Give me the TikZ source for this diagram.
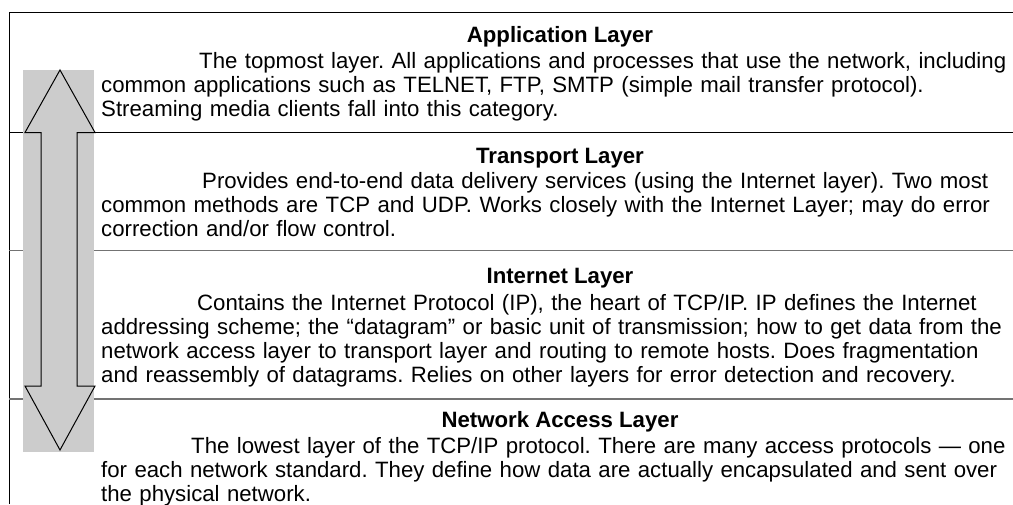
\documentclass[tikz,border=0pt]{standalone}
\usepackage{fontspec}
\setmainfont{Liberation Sans}
\frenchspacing
\begin{document}
\begin{tikzpicture}[x=1pt,y=-1pt,
  frame/.style={black, line width=1pt},
  divblack/.style={black, line width=1pt},
  divgray/.style={black!55, line width=1.5pt},
  arrowbg/.style={fill=black!20},
  arrowline/.style={draw=black, line width=1pt, line join=miter},
  ttl/.style={font=\fontsize{22.2}{24}\selectfont\bfseries, anchor=base, inner sep=0},
  body/.style={font=\fontsize{22.2}{24}\selectfont\frenchspacing, anchor=base west, inner sep=0, text width=1000pt, align=left},
]
\useasboundingbox (0,0) rectangle (1013,504);
% frame
\coordinate (tl) at (9,12);
\coordinate (tr) at (1013,12);
\coordinate (bl) at (9,504);
\draw[frame] (tr) -- (tl) -- (bl);
% dividers
\coordinate (d1l) at (9,132.5);  \coordinate (d1r) at (1013,132.5);
\coordinate (d2l) at (9,250.5);  \coordinate (d2r) at (1013,250.5);
\coordinate (d3l) at (9,399);    \coordinate (d3r) at (1013,399);
\draw[divblack] (d1l) -- (d1r);
\draw[divgray] (d2l) -- (d2r);
\draw[divgray] (d3l) -- (d3r);
% double arrow
\fill[arrowbg] (23,70) rectangle (94,452);
\draw[arrowline] (60,70) -- (95,132.5) -- (77,132.5) -- (77,386) -- (95,386)
  -- (60,450) -- (25,386) -- (41,386) -- (41,132.5) -- (25,132.5) -- cycle;
% Application
\node[ttl] (t1) at (560,42) {Application Layer};
\node[body] (b1) at (101,68) {\hspace*{98pt}The topmost layer. All applications and processes that use the network, including\\
common applications such as TELNET, FTP, SMTP (simple mail transfer protocol).\\
Streaming media clients fall into this category.};
% Transport
\node[ttl] (t2) at (560,163) {Transport Layer};
\node[body] (b2) at (101,188) {\hspace*{101pt}Provides end-to-end data delivery services (using the Internet layer). Two most\\
common methods are TCP and UDP. Works closely with the Internet Layer; may do error\\
correction and/or flow control.};
% Internet
\node[ttl] (t3) at (560,283) {Internet Layer};
\node[body] (b3) at (101,310) {\hspace*{96pt}Contains the Internet Protocol (IP), the heart of TCP/IP. IP defines the Internet\\
addressing scheme; the “datagram” or basic unit of transmission; how to get data from the\\
network access layer to transport layer and routing to remote hosts. Does fragmentation\\
and reassembly of datagrams. Relies on other layers for error detection and recovery.};
% Network Access
\node[ttl] (t4) at (560,427) {Network Access Layer};
\node[body] (b4) at (101,453) {\hspace*{90pt}The lowest layer of the TCP/IP protocol. There are many access protocols — one\\
for each network standard. They define how data are actually encapsulated and sent over\\
the physical network.};
\end{tikzpicture}
\end{document}
